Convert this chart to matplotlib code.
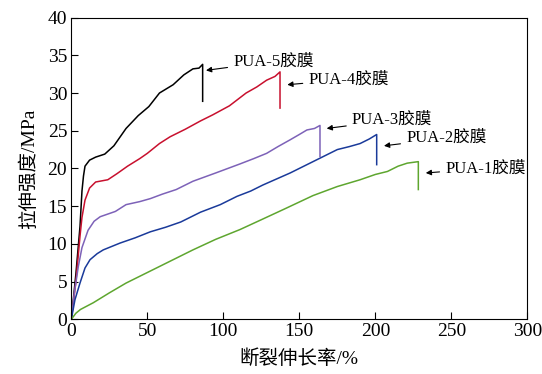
import matplotlib
matplotlib.use("Agg")
import matplotlib.pyplot as plt

plt.rcParams['font.family'] = ['Liberation Serif', 'Noto Sans CJK SC']
plt.rcParams['mathtext.fontset'] = 'stix'

# PUA-5
x5 = [0, 3, 5.7, 7, 8, 9, 12, 16, 22, 28, 36, 44, 51, 58, 67, 74, 80, 84, 86.4, 86.4]
y5 = [0, 6, 12.3, 17, 19, 20.3, 21.1, 21.5, 21.9, 23, 25.3, 27, 28.2, 30, 31.1, 32.4, 33.2, 33.3, 33.8, 28.9]
# PUA-4
x4 = [0, 3, 5.7, 7, 9, 12, 16, 24, 30, 37, 45, 50, 58, 65, 75, 85, 93, 104, 115, 122, 128.5, 134, 137.3, 137.3]
y4 = [0, 5, 11, 13.5, 15.8, 17.4, 18.2, 18.5, 19.3, 20.3, 21.3, 22, 23.3, 24.2, 25.2, 26.3, 27.1, 28.3, 30, 30.8, 31.7, 32.2, 32.8, 28.0]
# PUA-3
x3 = [0, 2, 4.6, 7, 11, 15, 19, 29, 36, 45, 52, 60, 69, 80, 95, 111, 120, 128.5, 136, 144, 150, 155, 160, 163.6, 163.6]
y3 = [0, 3.5, 7, 9.5, 11.8, 13, 13.6, 14.3, 15.2, 15.6, 16, 16.6, 17.2, 18.3, 19.4, 20.6, 21.3, 22, 22.9, 23.8, 24.5, 25.1, 25.3, 25.7, 21.6]
# PUA-2
x2 = [0, 2.4, 5.7, 9, 12.3, 17, 21, 32, 42, 52, 62, 72, 85, 98, 109, 118, 126, 135, 144, 152, 159, 167, 175, 183, 190, 196, 200.9, 200.9]
y2 = [0, 2.6, 4.8, 6.8, 7.9, 8.7, 9.2, 10.1, 10.8, 11.6, 12.2, 12.9, 14.2, 15.2, 16.3, 17, 17.8, 18.6, 19.4, 20.2, 20.9, 21.7, 22.5, 22.9, 23.3, 23.9, 24.5, 20.5]
# PUA-1
x1 = [0, 3, 6, 14.5, 25, 36, 47, 58, 69, 80, 95, 111, 125, 140, 159, 175, 190, 200, 208, 215, 221, 228.3, 228.3]
y1 = [0, 0.8, 1.3, 2.2, 3.5, 4.8, 5.9, 7, 8.1, 9.2, 10.6, 11.9, 13.2, 14.6, 16.4, 17.6, 18.5, 19.2, 19.6, 20.3, 20.7, 20.9, 17.2]

labels = ["PUA-5胶膜", "PUA-4胶膜", "PUA-3胶膜", "PUA-2胶膜", "PUA-1胶膜"]
colors = ["#000000", "#c8102e", "#7d62b8", "#1a3a9a", "#5ea62f"]
text_pos = [(106.4, 34.2), (155.9, 31.8), (184.5, 26.4), (220.2, 24.0), (245.9, 20.0)]
arrow_head = [(88.6, 33.0), (142.1, 31.1), (168.0, 25.3), (205.7, 23.0), (233.2, 19.4)]

fig = plt.figure(figsize=(5.42, 3.74), dpi=100)
ax = fig.add_axes([0.1316, 0.1463, 0.8413, 0.8067])

for xs, ys, c in zip([x5, x4, x3, x2, x1], [y5, y4, y3, y2, y1], colors):
    ax.plot(xs, ys, color=c, lw=1.1)

for lab, (tx, ty), (hx, hy) in zip(labels, text_pos, arrow_head):
    ax.annotate(lab, xy=(hx, hy), xytext=(tx, ty), fontsize=12, va='center', ha='left',
                arrowprops=dict(arrowstyle='-|>', color='black', lw=0.8,
                                mutation_scale=8, shrinkA=2, shrinkB=0))

ax.set_xlim(0, 300)
ax.set_ylim(0, 40)
ax.set_xticks(range(0, 301, 50))
ax.set_yticks(range(0, 41, 5))
ax.tick_params(direction='in', length=5, labelsize=14, top=False, right=False, pad=3)
ax.set_xlabel("断裂伸长率/%", fontsize=14, labelpad=6)
ax.set_ylabel("拉伸强度/MPa", fontsize=14, labelpad=7)
for s in ax.spines.values():
    s.set_linewidth(0.8)

fig.savefig("out.png", dpi=100)
